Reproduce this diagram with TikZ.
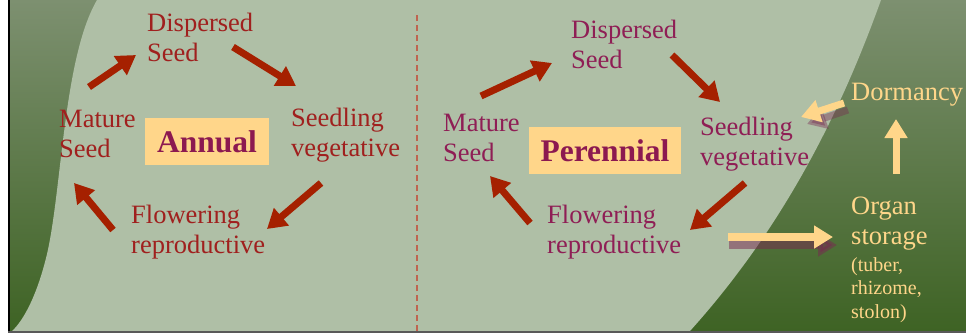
\documentclass[tikz,border=0pt]{standalone}
\usepackage{fontspec}
\setmainfont{Liberation Serif}
\usetikzlibrary{arrows.meta}
\definecolor{lightbg}{RGB}{175,191,166}
\definecolor{darktop}{RGB}{125,144,112}
\definecolor{darkbot}{RGB}{62,99,36}
\definecolor{anntext}{RGB}{160,32,30}
\definecolor{pertext}{RGB}{143,30,85}
\definecolor{arrowred}{RGB}{165,32,0}
\definecolor{boxfill}{RGB}{255,214,138}
\definecolor{boxtext}{RGB}{140,25,80}
\definecolor{lightor}{RGB}{255,214,138}
\definecolor{shadowc}{RGB}{120,40,80}
\definecolor{dashc}{RGB}{190,100,80}
\begin{document}
\begin{tikzpicture}[x=1pt,y=-1pt,
  lbl/.style={inner sep=0pt, anchor=north west, align=left, font=\fontsize{26.5}{30}\selectfont},
  small/.style={inner sep=0pt, anchor=north west, align=left, font=\fontsize{20}{23.5}\selectfont, text=lightor},
  titlebox/.style={fill=boxfill, inner sep=0pt, text=boxtext, font=\bfseries\fontsize{31.5}{36}\selectfont},
  redarrow/.style={draw=arrowred, line width=7pt, -{Triangle[length=19pt,width=22pt]}},
  lightarrow/.style={draw=lightor, line width=7pt, -{Triangle[length=19pt,width=22pt]}},
  shadowarrow/.style={draw=shadowc, opacity=0.5, line width=7pt, -{Triangle[length=19pt,width=22pt]}}]
\useasboundingbox (0,0) rectangle (966,333);
\fill[white] (0,0) rectangle (966,333);
% background
\shade[top color=darktop, bottom color=darkbot] (9,0) rectangle (966,331);
\fill[lightbg] (97,0) .. controls (62,60) and (62,200) .. (45,262) .. controls (35,300) and (22,322) .. (12,331)
  -- (690,331) .. controls (790,220) and (845,100) .. (881,0) -- cycle;
\draw[black, line width=2.5pt] (9,0) -- (9,332);
\draw[black!65, line width=2pt] (8,332) -- (966,332);
% divider
\draw[dashc, line width=1.3pt, dash pattern=on 6pt off 4pt] (417,15) -- (417,331);

% Annual cycle
\node[lbl, text=anntext] (adisp) at (147,13) {Dispersed\\Seed};
\node[lbl, text=anntext] (amat) at (59,110) {Mature\\Seed};
\node[lbl, text=anntext] (aseed) at (291,108) {Seedling\\vegetative};
\node[lbl, text=anntext] (aflow) at (131,205) {Flowering\\reproductive};
\node[titlebox, minimum width=124pt, minimum height=47pt] (annual) at (207,141.5) {Annual};

\coordinate (a1s) at (89,87);   \coordinate (a1e) at (136,55);
\coordinate (a2s) at (233,47);  \coordinate (a2e) at (296,86);
\coordinate (a3s) at (321,183); \coordinate (a3e) at (267,229);
\coordinate (a4s) at (113,230); \coordinate (a4e) at (74,183);
\draw[redarrow] (a1s) -- (a1e);
\draw[redarrow] (a2s) -- (a2e);
\draw[redarrow] (a3s) -- (a3e);
\draw[redarrow] (a4s) -- (a4e);

% Perennial cycle
\node[lbl, text=pertext] (pdisp) at (571,20) {Dispersed\\Seed};
\node[lbl, text=pertext] (pmat) at (443,114) {Mature\\Seed};
\node[lbl, text=pertext] (pseed) at (700,117) {Seedling\\vegetative};
\node[lbl, text=pertext] (pflow) at (547,205) {Flowering\\reproductive};
\node[titlebox, minimum width=152pt, minimum height=47pt] (perennial) at (605,150.5) {Perennial};

\coordinate (p1s) at (481,96);  \coordinate (p1e) at (552,63);
\coordinate (p2s) at (672,55);  \coordinate (p2e) at (720,102);
\coordinate (p3s) at (745,183); \coordinate (p3e) at (690,230);
\coordinate (p4s) at (530,223); \coordinate (p4e) at (490,176);
\draw[redarrow] (p1s) -- (p1e);
\draw[redarrow] (p2s) -- (p2e);
\draw[redarrow] (p3s) -- (p3e);
\draw[redarrow] (p4s) -- (p4e);

% Dormancy / organ storage
\node[lbl, text=lightor] (dorm) at (851,83) {Dormancy};
\node[lbl, text=lightor] (organ) at (851,197) {Organ\\storage};
\node[small] (kinds) at (851,257) {(tuber,\\rhizome,\\stolon)};

\coordinate (ds) at (844,103); \coordinate (de) at (801,117);
\coordinate (dss) at (848,110); \coordinate (dse) at (807,124);
\draw[shadowarrow, opacity=0.4] (dss) -- (dse);
\draw[lightarrow] (ds) -- (de);

\coordinate (os) at (728,237); \coordinate (oe) at (833,237);
\coordinate (oss) at (729,245); \coordinate (ose) at (837,245);
\draw[shadowarrow, line width=8pt] (oss) -- (ose);
\draw[lightarrow, line width=8pt] (os) -- (oe);

\coordinate (us) at (896,174); \coordinate (ue) at (896,119);
\draw[lightarrow] (us) -- (ue);
\end{tikzpicture}
\end{document}
